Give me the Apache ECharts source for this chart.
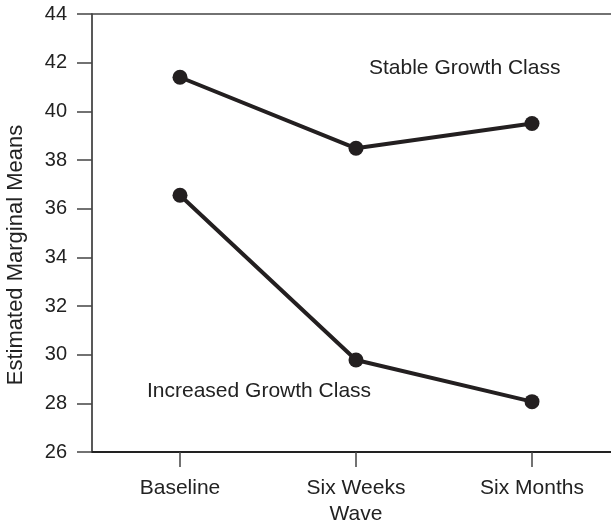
<!DOCTYPE html>
<html>
<head>
<meta charset="UTF-8">
<title></title>
<style>
	html, body { margin: 0; padding: 0; background: #fff; }
	#main { width: 611px; height: 525px; }
</style>
</head>
<body>
<div id="main"></div>
<script src="https://cdn.jsdelivr.net/npm/echarts@6/dist/echarts.min.js"></script>
<script>
	// waves on the x axis
	var waves = ['Baseline', 'Six Weeks', 'Six Months'];
	// estimated marginal means per class
	var stableGrowth = [41.4, 38.48, 39.5];
	var increasedGrowth = [36.55, 29.78, 28.07];

	var ink = '#231f20';
	var font = 'Liberation Sans, Arial, Helvetica, sans-serif';

	var myChart = echarts.init(document.getElementById('main'));
	var lineSeries = function(name, data) {
		return {
			name: name,
			type: 'line',
			xAxisIndex: 0,
			data: data,
			symbol: 'circle',
			symbolSize: 15,
			lineStyle: { color: ink, width: 4 },
			itemStyle: { color: ink },
			animation: false
		};
	};

	var option = {
		backgroundColor: '#fff',
		textStyle: { fontFamily: font },
		grid: { left: 92, top: 14, width: 528, height: 438, outerBoundsMode: 'none', containLabel: false },
		xAxis: [{
			type: 'category',
			data: waves,
			boundaryGap: true,
			name: 'Wave',
			nameLocation: 'middle',
			nameGap: 51,
			nameTextStyle: { fontSize: 21, color: '#222', fontFamily: font },
			axisLine: { show: true, lineStyle: { color: '#222', width: 2 } },
			axisTick: { show: true, alignWithLabel: true, inside: false, length: 15, lineStyle: { color: '#444', width: 1.5 } },
			axisLabel: { fontSize: 21, color: '#222', margin: 26, fontFamily: font },
			splitLine: { show: false }
		}, {
			type: 'category',
			data: waves,
			position: 'top',
			axisLine: { show: true, lineStyle: { color: '#444', width: 1.5 } },
			axisTick: { show: false },
			axisLabel: { show: false },
			splitLine: { show: false }
		}],
		yAxis: {
			type: 'value',
			min: 26,
			max: 44,
			interval: 2,
			name: 'Estimated Marginal Means',
			nameLocation: 'middle',
			nameRotate: 90,
			nameGap: 65,
			nameTextStyle: { fontSize: 22, color: '#222', fontFamily: font, padding: [0, 44, 0, 0] },
			axisLine: { show: true, lineStyle: { color: '#222', width: 1.5 } },
			axisTick: { show: true, length: 15, lineStyle: { color: '#444', width: 1.5 } },
			axisLabel: { fontSize: 20, color: '#222', margin: 25, fontFamily: font },
			splitLine: { show: false }
		},
		graphic: [{
			type: 'text',
			left: 369,
			top: 58,
			style: { text: 'Stable Growth Class', fontSize: 21, fill: '#222', fontFamily: font }
		}, {
			type: 'text',
			left: 147,
			top: 381,
			style: { text: 'Increased Growth Class', fontSize: 21, fill: '#222', fontFamily: font }
		}],
		series: [
			lineSeries('Stable Growth Class', stableGrowth),
			lineSeries('Increased Growth Class', increasedGrowth)
		]
	};
	myChart.setOption(option);
</script>
</body>
</html>
